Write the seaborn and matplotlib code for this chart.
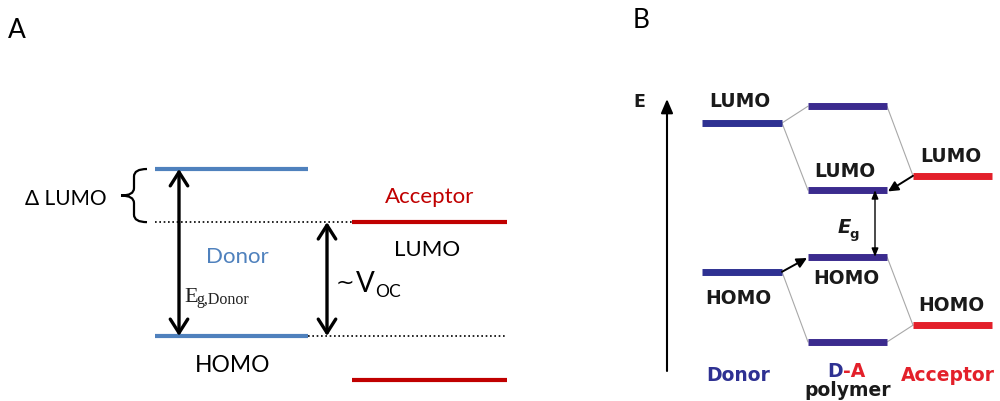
import numpy as np
import pandas as pd
import matplotlib
matplotlib.use("Agg")
import matplotlib.pyplot as plt
import seaborn as sns
from matplotlib.path import Path
from matplotlib.patches import PathPatch

# ---------------- data ----------------
# Panel A: energy levels (eV, relative)
a_species = ["Donor", "Acceptor"]
a_lumo = [-3.00, -3.70]
a_homo = [-5.20, -5.78]
a_colors = {"Donor": "#4f81bd", "Acceptor": "#c00000"}

# Panel B: energy levels (eV, relative)
b_species = ["Donor", "D-A polymer", "Acceptor"]
b_lumo = [-3.00, -4.12, -3.88]
b_homo = [-5.48, -5.23, -6.37]
b_da_upper = -2.72   # antibonding combination of D-A polymer
b_da_lower = -6.65   # bonding combination of D-A polymer
b_colors = {"Donor": "#2e3192", "D-A polymer": "#3b2b8e", "Acceptor": "#e3202a"}

# ---------------- layout ----------------
W, H = 1000, 402
fig = plt.figure(figsize=(W / 100, H / 100), dpi=100)
sns.set_theme(style="white")
plt.rcParams["font.family"] = ["Lato", "DejaVu Sans"]

def fx(x):
    return x / W

def fy(y):
    return 1 - y / H

def T(x, y, s, **kw):
    kw.setdefault("ha", "center")
    kw.setdefault("va", "baseline")
    fig.text(fx(x), fy(y), s, **kw)

# Panel A axes: x in layout pixels, y in energy
A_PX = 75.9        # px per eV
A_REF_Y = 170      # pixel row of first level
axA = fig.add_axes([0, 0, 0.6, 1])
axA.set_xlim(0, 600)
axA.set_ylim(a_lumo[0] - (H - A_REF_Y) / A_PX, a_lumo[0] + A_REF_Y / A_PX)
axA.axis("off")

B_PX = 60.0
B_REF_Y = 124
axB = fig.add_axes([0.6, 0, 0.4, 1])
axB.set_xlim(600, 1000)
axB.set_ylim(b_lumo[0] - (H - B_REF_Y) / B_PX, b_lumo[0] + B_REF_Y / B_PX)
axB.axis("off")

# ---------------- Panel A ----------------
a_xspan = {"Donor": (155, 308), "Acceptor": (352, 507)}
rows = []
for i, sp in enumerate(a_species):
    for lvl, E in (("LUMO", a_lumo[i]), ("HOMO", a_homo[i])):
        for x in a_xspan[sp]:
            rows.append(dict(species=sp, seg=f"{sp}-{lvl}", x=x, E=E))
dfA = pd.DataFrame(rows)
sns.lineplot(data=dfA, x="x", y="E", hue="species", units="seg", estimator=None,
             palette=a_colors, lw=3, legend=False, sort=False, ax=axA,
             solid_capstyle="butt")

# dotted guide lines
axA.plot([155, 352], [a_lumo[1], a_lumo[1]], color="black", lw=1.2, ls=(0, (1, 1.6)))
axA.plot([308, 507], [a_homo[0], a_homo[0]], color="black", lw=1.2, ls=(0, (1, 1.6)))

# double arrows
arrA = dict(arrowstyle="<->,head_length=0.55,head_width=0.35", lw=2.4, color="black",
            shrinkA=0, shrinkB=0, mutation_scale=18)
axA.annotate("", xy=(179, a_homo[0]), xytext=(179, a_lumo[0]), arrowprops=arrA)
axA.annotate("", xy=(327, a_homo[0]), xytext=(327, a_lumo[1]), arrowprops=arrA)

# curly brace between donor LUMO and acceptor LUMO
top, bot = a_lumo[0], a_lumo[1]
mid = (top + bot) / 2
sp_ = top - bot
xe, xv, xt = 147, 134, 121
verts = [(xe, top), (xv, top), (xv, top - 0.14 * sp_), (xv, mid + 0.14 * sp_),
         (xv, mid), (xt, mid),
         (xt, mid), (xv, mid), (xv, mid - 0.14 * sp_), (xv, bot + 0.14 * sp_),
         (xv, bot), (xe, bot)]
codes = [Path.MOVETO, Path.CURVE3, Path.CURVE3, Path.LINETO, Path.CURVE3, Path.CURVE3,
         Path.MOVETO, Path.CURVE3, Path.CURVE3, Path.LINETO, Path.CURVE3, Path.CURVE3]
axA.add_patch(PathPatch(Path(verts, codes), fill=False, lw=1.6, color="black"))

# Panel A texts
T(17, 38, "A", fontsize=19, color="black")
T(66, 205, "Δ LUMO", fontsize=15, color="black")
T(430, 203, "Acceptor", fontsize=16, color=a_colors["Acceptor"])
T(427, 256, "LUMO", fontsize=16, color="black")
T(237, 263, "Donor", fontsize=16, color=a_colors["Donor"])
T(233, 372, "HOMO", fontsize=16.5, color="black")
T(184, 302, "E", fontsize=16, ha="left", family="Liberation Serif", color="#222222")
T(196, 304, "g,Donor", fontsize=11.5, ha="left", family="Liberation Serif", color="#222222")
T(345, 283, "~", fontsize=16, va="center", family="DejaVu Sans", color="black")
T(356, 292, "V", fontsize=20, ha="left", color="black")
T(375, 297, "OC", fontsize=12.5, ha="left", color="black")

# ---------------- Panel B ----------------
b_xspan = {"Donor": (702, 782), "D-A polymer": (808, 887), "Acceptor": (913, 992)}
levelsB = [("Donor", "LUMO", b_lumo[0]), ("Donor", "HOMO", b_homo[0]),
           ("D-A polymer", "upper", b_da_upper), ("D-A polymer", "LUMO", b_lumo[1]),
           ("D-A polymer", "HOMO", b_homo[1]), ("D-A polymer", "lower", b_da_lower),
           ("Acceptor", "LUMO", b_lumo[2]), ("Acceptor", "HOMO", b_homo[2])]
rows = []
for sp, lvl, E in levelsB:
    for x in b_xspan[sp]:
        rows.append(dict(species=sp, seg=f"{sp}-{lvl}", x=x, E=E))
dfB = pd.DataFrame(rows)

# thin grey correlation lines
grey = dict(color="#a8a8a8", lw=0.8, zorder=1)
dR, pL, pR, aL = 782, 808, 887, 913
axB.plot([dR, pL], [b_lumo[0], b_da_upper], **grey)
axB.plot([dR, pL], [b_lumo[0], b_lumo[1]], **grey)
axB.plot([pR, aL], [b_da_upper, b_lumo[2]], **grey)
axB.plot([dR, pL], [b_homo[0], b_da_lower], **grey)
axB.plot([pR, aL], [b_homo[1], b_homo[2]], **grey)
axB.plot([pR, aL], [b_da_lower, b_homo[2]], **grey)

sns.lineplot(data=dfB, x="x", y="E", hue="species", units="seg", estimator=None,
             palette=b_colors, lw=5, legend=False, sort=False, ax=axB,
             solid_capstyle="butt", zorder=3)

# charge-transfer arrows
small = dict(arrowstyle="-|>,head_length=0.6,head_width=0.3", lw=1.4, color="black",
             shrinkA=0, shrinkB=0, mutation_scale=10)
axB.annotate("", xy=(pR + 1, b_lumo[1] - 0.02), xytext=(aL, b_lumo[2]), arrowprops=small)
axB.annotate("", xy=(pL - 1, b_homo[1] - 0.02), xytext=(dR, b_homo[0]), arrowprops=small)
# band gap arrow
axB.annotate("", xy=(875, b_homo[1]), xytext=(875, b_lumo[1]),
             arrowprops=dict(arrowstyle="<|-|>,head_length=0.5,head_width=0.2", lw=1.0,
                             color="black", shrinkA=0, shrinkB=0, mutation_scale=10))
# energy axis arrow
axB.annotate("", xy=(667, b_lumo[0] + 24 / B_PX), xytext=(667, b_lumo[0] - 248 / B_PX),
             arrowprops=dict(arrowstyle="-|>,head_length=0.7,head_width=0.3", lw=1.5,
                             color="black", shrinkA=0, shrinkB=0, mutation_scale=12))

bf = dict(family="DejaVu Sans", weight="bold", fontsize=13.5, color="#1a1a1a")
T(641, 28, "B", fontsize=19, color="black")
T(639, 107, "E", family="DejaVu Sans", weight="bold", fontsize=12.5, color="#1a1a1a")
T(740, 107, "LUMO", **bf)
T(845, 177, "LUMO", **bf)
T(951, 162, "LUMO", **bf)
T(846, 284, "HOMO", **bf)
T(738, 304, "HOMO", **bf)
T(951, 311, "HOMO", **bf)
T(844, 233, "E", family="DejaVu Sans", weight="bold", style="italic", fontsize=14, color="#1a1a1a")
T(849, 238, "g", family="DejaVu Sans", weight="bold", fontsize=9.5, ha="left", color="#1a1a1a")
T(738, 381, "Donor", family="DejaVu Sans", weight="bold", fontsize=13.5, color="#2e3192")
T(948, 381, "Acceptor", family="DejaVu Sans", weight="bold", fontsize=13.5, color="#e3202a")
T(843, 377, "D", family="DejaVu Sans", weight="bold", fontsize=13.5, color="#2e3192", ha="right")
T(843, 377, "-A", family="DejaVu Sans", weight="bold", fontsize=13.5, color="#e3202a", ha="left")
T(848, 396, "polymer", **bf)

fig.savefig("out.png", dpi=100, facecolor="white")
